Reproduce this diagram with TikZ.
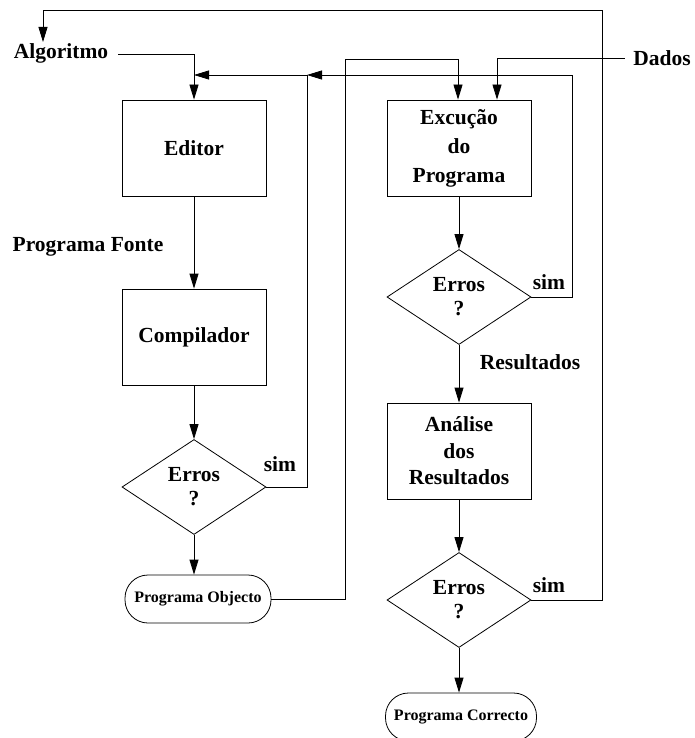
\documentclass[tikz,border=0pt]{standalone}
\usepackage{fontspec}
\setmainfont{Liberation Serif}
\usetikzlibrary{shapes.geometric}
\usetikzlibrary{arrows.meta}

\begin{document}
\begin{tikzpicture}[x=1pt,y=-1pt,line cap=rect,
		wire/.style={line width=0.8pt},
		>={Triangle[length=15pt,width=9pt]},
		flowbox/.style={draw, line width=0.8pt, minimum width=144pt, minimum height=96pt, inner sep=0pt, align=center, font=\bfseries\fontsize{21.5pt}{29pt}\selectfont},
		ask/.style={draw, shape=diamond, line width=0.8pt, minimum width=144pt, minimum height=95pt, inner sep=0pt, align=center, font=\bfseries\fontsize{21.5pt}{24pt}\selectfont},
		endbox/.style={draw, line width=0.8pt, rounded corners=23pt, minimum width=146pt, minimum height=48pt, inner sep=0pt, font=\bfseries\fontsize{16pt}{16pt}\selectfont},
		tag/.style={inner sep=0pt, anchor=base, font=\bfseries\fontsize{21.5pt}{21.5pt}\selectfont}]
	\useasboundingbox (0,0) rectangle (695,738);
	% left column
	\node[flowbox] (editor) at (194,148) {Editor};
	\node[flowbox] (compil) at (194,337) {Compilador};
	\node[ask] (erros1) at (194,487) {Erros\\?};
	\node[endbox] (prgobj) at (198,599) {Programa Objecto};
	% right column
	\node[flowbox] (exec) at (459,148) {Excução\\do\\Programa};
	\node[ask] (erros2) at (459,297) {Erros\\?};
	\node[flowbox, font=\bfseries\fontsize{21.5pt}{26.5pt}\selectfont] (analise) at (459,451) {Análise\\dos\\Resultados};
	\node[ask] (erros3) at (459,600) {Erros\\?};
	\node[endbox, minimum width=151pt] (prgcor) at (461,717) {Programa Correcto};
	% labels
	\node[tag] (algo) at (61,59) {Algoritmo};
	\node[tag] (fonte) at (88,251) {Programa Fonte};
	\node[tag] (dados) at (662,66) {Dados};
	\node[tag] (result) at (530,369) {Resultados};
	\node[tag] (sim1) at (280,471) {sim};
	\node[tag] (sim2) at (549,289) {sim};
	\node[tag] (sim3) at (549,592) {sim};
	% corner points
	\coordinate (jB) at (307,75);
	\coordinate (jC) at (572,75);
	\coordinate (jD) at (345,59);
	\coordinate (topright) at (602,10);
	\coordinate (algoin) at (43,42);
	% main flow
	\draw[wire,->] ([xshift=10pt]algo.east) -| (editor.north);
	\draw[wire,->] (editor) -- (compil);
	\draw[wire,->] (compil) -- (erros1);
	\draw[wire,->] (erros1.south) -- (erros1.south |- prgobj.north);
	\draw[wire,->] (prgobj.east) -| (jD) -| ([xshift=-1pt]exec.north);
	\draw[wire,->] ([xshift=-9pt]dados.west) -| ([xshift=38pt]exec.north);
	\draw[wire,->] (exec) -- (erros2);
	\draw[wire,->] (erros2) -- (analise);
	\draw[wire,->] (analise) -- (erros3);
	\draw[wire,->] (erros3.south) -- (erros3.south |- prgcor.north);
	% loops back
	\draw[wire,->] (erros1.east) -| (jB) -- (jB -| editor.north);
	\draw[wire,->] (erros2.east) -| (jC) -- (jB);
	\draw[wire,->] (erros3.east) -| (topright) -| (algoin);
\end{tikzpicture}
\end{document}
